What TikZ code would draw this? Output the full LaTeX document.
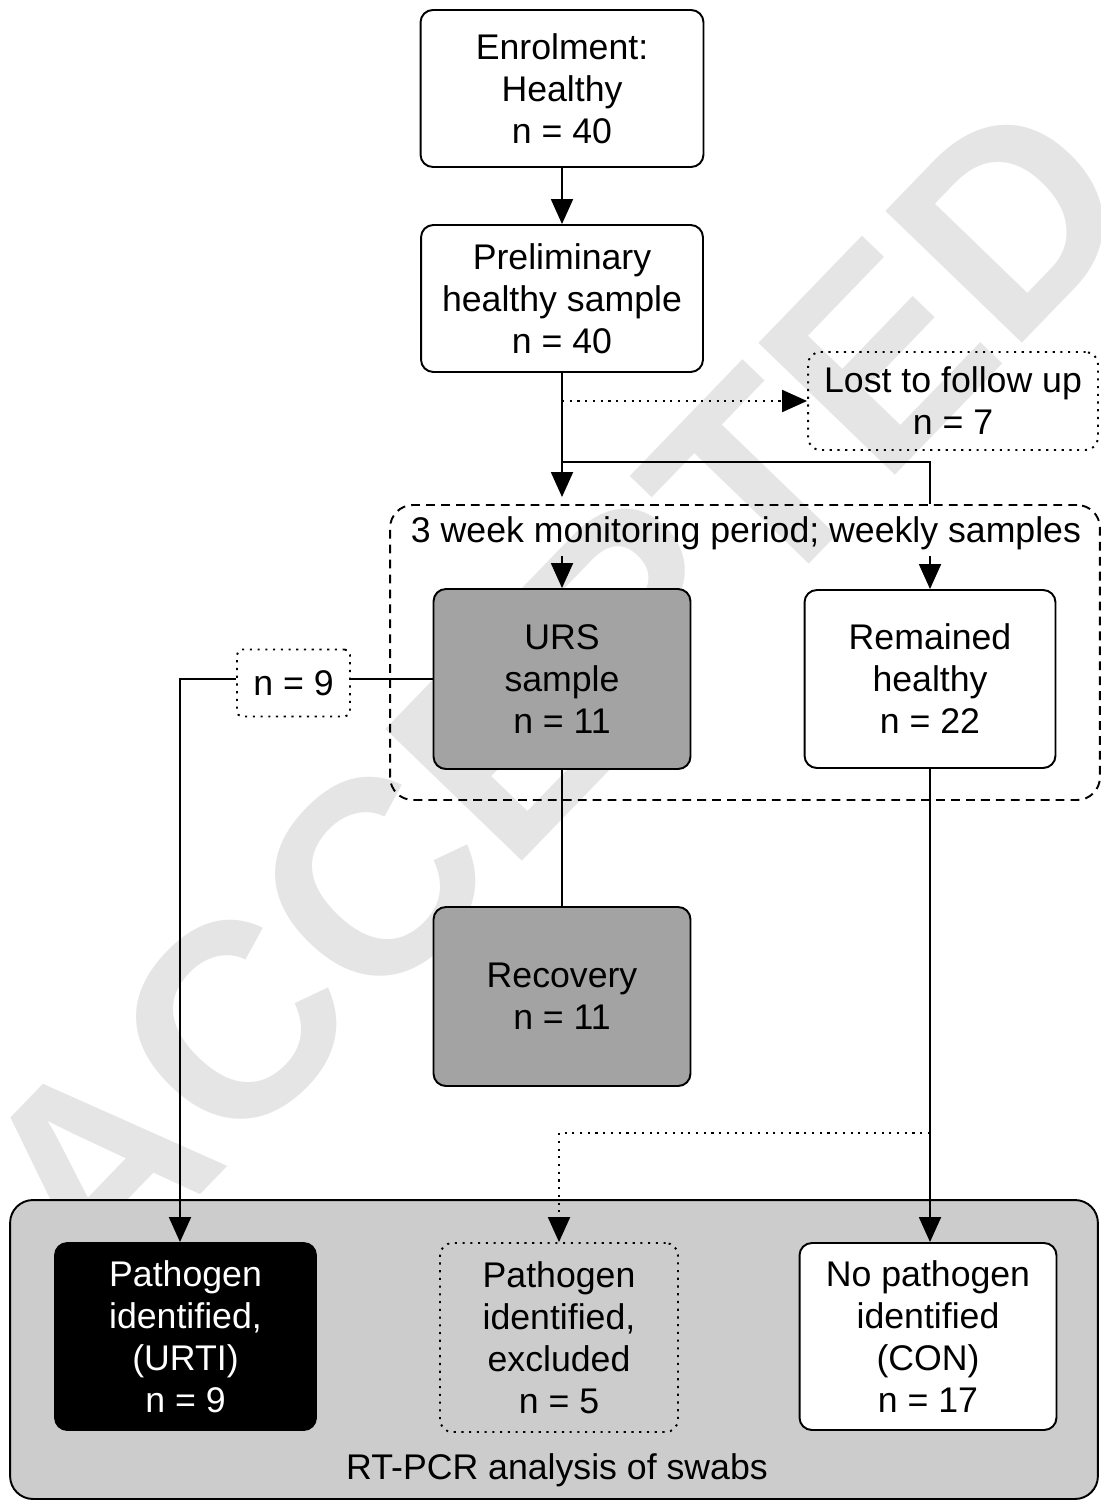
\documentclass[tikz,border=0pt]{standalone}
\usepackage{fontspec}
\setmainfont{Liberation Sans}
\usepackage{tikz}
\usetikzlibrary{positioning,arrows.meta,calc}
\definecolor{urscol}{gray}{0.64}
\definecolor{pcrcol}{gray}{0.80}
\definecolor{markcol}{gray}{0.90}

\begin{document}
\begin{tikzpicture}[x=0.02cm,y=-0.02cm,>={Triangle[length=5mm,width=4.4mm]},
                    line width=1.1pt,
                    box/.style={draw,rounded corners=7pt,align=center,inner sep=0pt,
                                font=\fontsize{20.3}{23.9}\selectfont},
                    dotbox/.style={box,dash pattern=on 1.2pt off 3.2pt},
                    dots/.style={dash pattern=on 1.2pt off 3.2pt}]

  \useasboundingbox (0,0) rectangle (1101,1503);

  \node[rotate=46,text=markcol,font=\bfseries\fontsize{157}{157}\selectfont] (mark) at (553,693) {ACCEPTED};

  \node[box,fill=pcrcol,rounded corners=13pt,minimum width=21.76cm,minimum height=5.98cm] (rtpcr) at (554,1349.5) {};
  \node[font=\fontsize{20.3}{23.9}\selectfont] (rtpcrlabel) at (557,1470) {RT-PCR analysis of swabs};

  \node[box,draw,dash pattern=on 5pt off 3.5pt,rounded corners=13pt,minimum width=14.2cm,minimum height=5.9cm] (monitor) at (745,652.5) {};
  \node[font=\fontsize{20.3}{23.9}\selectfont] (monlabel) at (746,533) {3 week monitoring period; weekly samples};

  \node[box,minimum width=5.66cm,minimum height=3.14cm] (enrol) at (562,88.5) {Enrolment:\\Healthy\\n = 40};
  \node[box,minimum width=5.64cm,minimum height=2.94cm] (prelim) at (562,298.5) {Preliminary\\healthy sample\\n = 40};
  \node[dotbox,minimum width=5.8cm,minimum height=1.96cm] (lost) at (953,401) {Lost to follow up\\n = 7};
  \node[box,fill=urscol,minimum width=5.14cm,minimum height=3.6cm] (urs) at (562,679) {URS\\sample\\n = 11};
  \node[box,minimum width=5.02cm,minimum height=3.56cm] (remained) at (930,679) {Remained\\healthy\\n = 22};
  \node[dotbox,rounded corners=3pt,minimum width=2.26cm,minimum height=1.34cm] (nine) at (293.5,683) {n = 9};
  \node[box,fill=urscol,minimum width=5.14cm,minimum height=3.58cm] (recovery) at (562,996.5) {Recovery\\n = 11};
  \node[box,fill=black,text=white,minimum width=5.22cm,minimum height=3.74cm] (urti) at (185.5,1336.5) {Pathogen\\identified,\\(URTI)\\n = 9};
  \node[dotbox,minimum width=4.76cm,minimum height=3.78cm] (excl) at (559,1337.5) {Pathogen\\identified,\\excluded\\n = 5};
  \node[box,fill=white,minimum width=5.14cm,minimum height=3.74cm] (nopath) at (928,1336.5) {No pathogen\\identified\\(CON)\\n = 17};

  \coordinate (split) at (562,462);
  \coordinate (branch) at (930,1133);

  \draw[->] (enrol) -- (prelim);
  \draw[->,shorten >=4pt] (prelim) -- (prelim |- monitor.north);
  \draw[->,dots] (prelim.south |- lost.west) -- (lost.west);
  \draw (split) -| (monitor.north -| remained);
  \draw[->] (monlabel.south -| urs) -- (urs);
  \draw[->] (monlabel.south -| remained) -- (remained);
  \draw (urs.west) -- (nine.east |- urs.west);
  \draw[->] (nine.west |- urs.west) -| (urti.north -| 180,0);
  \draw (urs) -- (recovery);
  \draw[->] (remained) -- (remained.south |- nopath.north);
  \draw[->,dots] (branch) -| (excl.north);
\end{tikzpicture}
\end{document}
